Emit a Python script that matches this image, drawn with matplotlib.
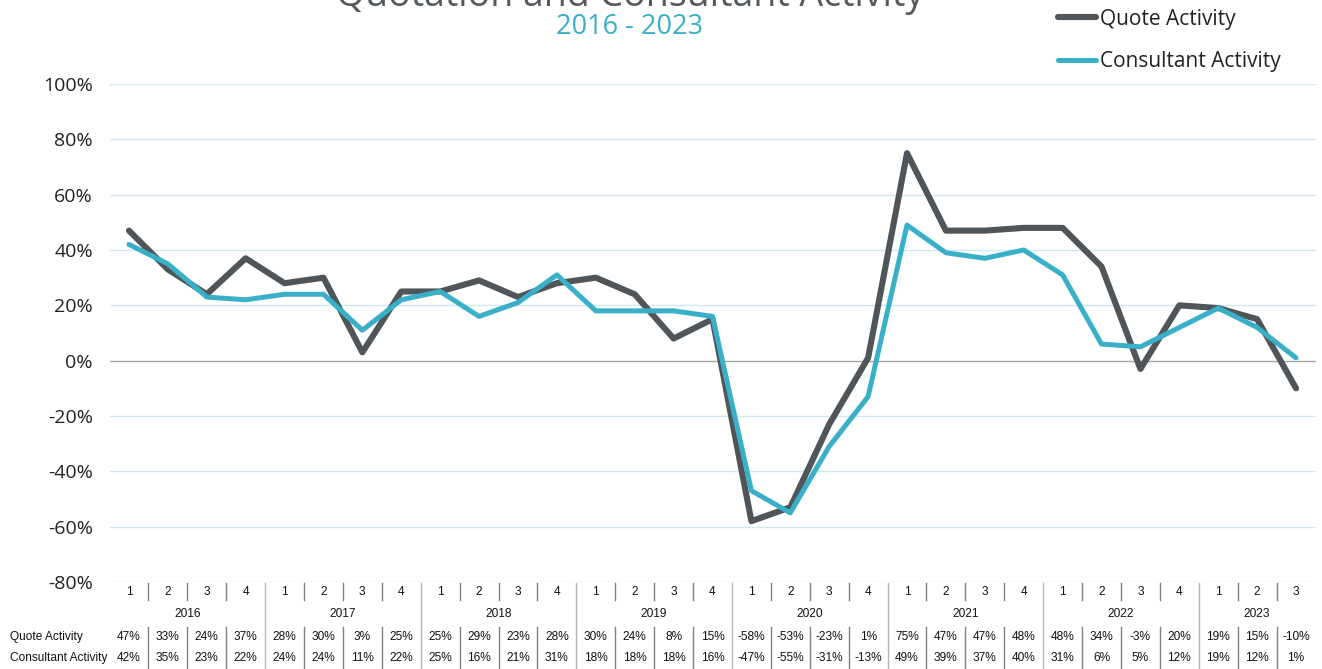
import numpy as np
import matplotlib
matplotlib.use('Agg')
import matplotlib.pyplot as plt
import matplotlib.transforms as mtransforms
from matplotlib import font_manager as fm

# data
years = ['2016', '2017', '2018', '2019', '2020', '2021', '2022', '2023']
quarters = ['1', '2', '3', '4'] * 7 + ['1', '2', '3']
quote = [47, 33, 24, 37, 28, 30, 3, 25, 25, 29, 23, 28, 30, 24, 8, 15,
         -58, -53, -23, 1, 75, 47, 47, 48, 48, 34, -3, 20, 19, 15, -10]
consultant = [42, 35, 23, 22, 24, 24, 11, 22, 25, 16, 21, 31, 18, 18, 18, 16,
              -47, -55, -31, -13, 49, 39, 37, 40, 31, 6, 5, 12, 19, 12, 1]
y_ticks = [-80, -60, -40, -20, 0, 20, 40, 60, 80, 100]

dark = '#4f5559'
cyan = '#3ab0c8'
main_font = 'Open Sans'
names = {f.name for f in fm.fontManager.ttflist}
table_font = 'Liberation Sans Narrow' if 'Liberation Sans Narrow' in names else 'Liberation Sans'

W, H = 1322, 669
fig = plt.figure(figsize=(W / 100, H / 100), dpi=100)
left, right, top, bottom = 109.5, 1315.5, 84, 582
ax = fig.add_axes([left / W, 1 - bottom / H, (right - left) / W, (bottom - top) / H])

x = np.arange(len(quote))
ax.plot(x, quote, color=dark, lw=4.4, solid_capstyle='round', solid_joinstyle='round',
        zorder=3, label='Quote Activity')
ax.plot(x, consultant, color=cyan, lw=3.6, solid_capstyle='round', solid_joinstyle='round',
        zorder=4, label='Consultant Activity')

ax.set_xlim(-0.5, len(quote) - 0.5)
ax.set_ylim(-80, 100)
ax.set_yticks(y_ticks)
ax.set_yticklabels([str(v) + '%' for v in y_ticks], fontfamily=main_font, fontsize=14, color='#222222')
ax.tick_params(axis='y', length=0, pad=12)
ax.set_xticks([])
for s in ax.spines.values():
    s.set_visible(False)
for v in y_ticks:
    if v == 0:
        ax.axhline(v, color='#a6a6a6', lw=1, zorder=2)
    else:
        ax.axhline(v, color='#cdeaf1', lw=1, zorder=1)

# data table under the axis
trans = mtransforms.blended_transform_factory(ax.transData, ax.transAxes)
ph = bottom - top


def ay(py):
    return (bottom - py) / ph


tk = dict(fontfamily=table_font, fontsize=8.6, color='#111111', ha='center', va='center', transform=trans, clip_on=False)
n = len(quote)
for i in range(n):
    ax.text(i, ay(592), quarters[i], **tk)
    ax.text(i, ay(637), str(quote[i]) + '%', **tk)
    ax.text(i, ay(658), str(consultant[i]) + '%', **tk)
for k, yr in enumerate(years):
    start = k * 4
    end = min(start + 3, n - 1)
    ax.text((start + end) / 2, ay(614), yr, **tk)

for i in range(n - 1):
    xs = i + 0.5
    if i % 4 == 3:
        ax.plot([xs, xs], [ay(583), ay(669)], color='#b4b4b4', lw=1, transform=trans, clip_on=False)
    else:
        ax.plot([xs, xs], [ay(583), ay(600)], color='#808080', lw=1, transform=trans, clip_on=False)
        ax.plot([xs, xs], [ay(627), ay(669)], color='#808080', lw=1, transform=trans, clip_on=False)

fig.text(10 / W, 1 - 637 / H, 'Quote Activity', fontfamily=table_font, fontsize=8.6, color='#111111', va='center')
fig.text(10 / W, 1 - 658 / H, 'Consultant Activity', fontfamily=table_font, fontsize=8.6, color='#111111', va='center')

# titles (the main title is cut by the top edge, as in the original)
fig.text(630 / W, 1 - 6 / H, 'Quotation and Consultant Activity', fontfamily=main_font, fontsize=27,
         color='#54595e', ha='center', va='baseline')
fig.text(630 / W, 1 - 34 / H, '2016 - 2023', fontfamily=main_font, fontsize=19.5, color=cyan,
         ha='center', va='baseline')

leg = fig.legend(loc='upper left', bbox_to_anchor=(1050 / W, 1 - 0.3 / H), frameon=False,
                 prop={'family': main_font, 'size': 15}, handlelength=1.8, handletextpad=0.2,
                 labelspacing=1.02, borderaxespad=0)
for t in leg.get_texts():
    t.set_color('#222222')

fig.savefig('out.png', dpi=100)
